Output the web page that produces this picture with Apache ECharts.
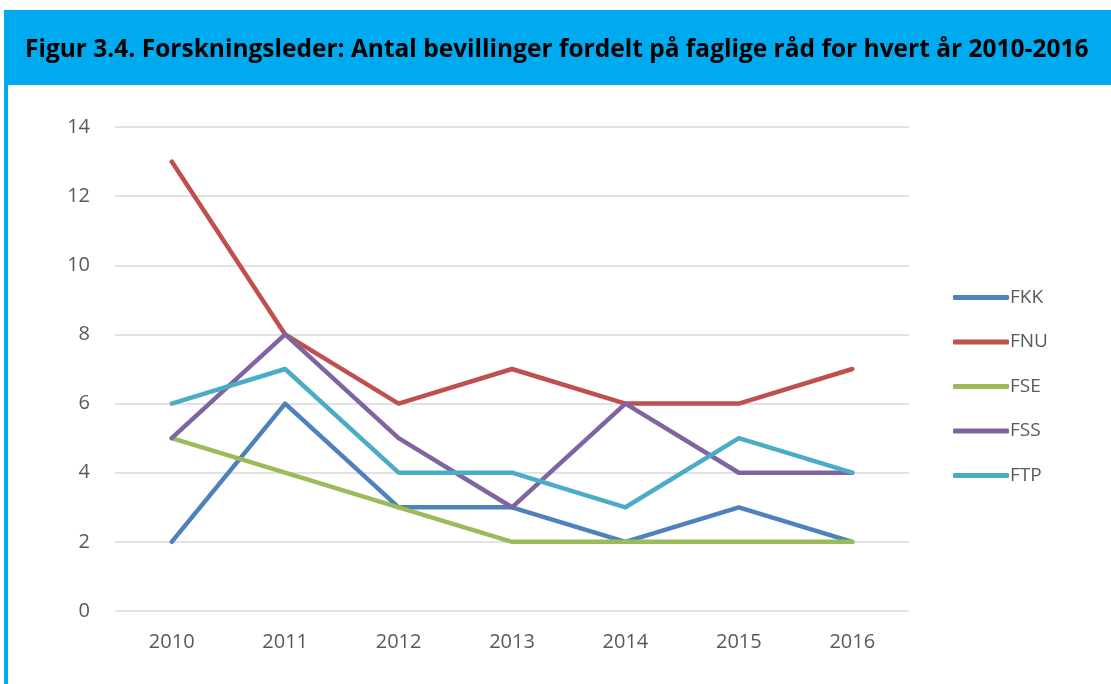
<!DOCTYPE html>
<html>
<head>
<meta charset="utf-8">
<script src="https://cdn.jsdelivr.net/npm/echarts@6/dist/echarts.min.js"></script>
<style>
  html, body { margin: 0; padding: 0; background: #fff; }
  #chart { width: 1111px; height: 684px; }
</style>
</head>
<body>
<div id="chart"></div>
<script>
// data
var years = ["2010", "2011", "2012", "2013", "2014", "2015", "2016"];
var fkk = [2, 6, 3, 3, 2, 3, 2];
var fnu = [13, 8, 6, 7, 6, 6, 7];
var fse = [5, 4, 3, 2, 2, 2, 2];
var fss = [5, 8, 5, 3, 6, 4, 4];
var ftp = [6, 7, 4, 4, 3, 5, 4];
var seriesNames = ["FKK", "FNU", "FSE", "FSS", "FTP"];
var colors = ["#4F81BD", "#C0504D", "#9BBB59", "#8064A2", "#4BACC6"];
var titleText = "Figur 3.4. Forskningsleder: Antal bevillinger fordelt på faglige råd for hvert år 2010-2016";

var myChart = echarts.init(document.getElementById("chart"));

function lineSeries(name, data) {
  return {
    name: name,
    type: "line",
    data: data,
    symbol: "none",
    lineStyle: { width: 4.5, cap: "round", join: "round" },
    emphasis: { disabled: true },
    z: 3
  };
}

var option = {
  animation: false,
  color: colors,
  textStyle: { fontFamily: "Open Sans" },
  graphic: [
    { type: "rect", shape: { x: 4, y: 10, width: 1107, height: 75 }, style: { fill: "#00AAEE" }, z: 0 },
    { type: "rect", shape: { x: 4, y: 10, width: 4, height: 674 }, style: { fill: "#00AAEE" }, z: 0 },
    {
      type: "text",
      x: 25,
      y: 50,
      style: {
        text: titleText,
        fill: "#000",
        font: "bold 24.5px 'Open Sans'",
        verticalAlign: "middle"
      },
      z: 1
    }
  ],
  grid: { left: 115, right: 202, top: 127, bottom: 73, containLabel: false },
  legend: {
    orient: "vertical",
    left: 948,
    top: 283,
    itemWidth: 56,
    itemHeight: 5,
    itemGap: 25.5,
    icon: "roundRect",
    data: seriesNames,
    textStyle: { color: "#595959", fontSize: 19, padding: [0, 0, 0, -4] }
  },
  xAxis: {
    type: "category",
    data: years,
    boundaryGap: true,
    axisLine: { show: false },
    axisTick: { show: false },
    axisLabel: { color: "#595959", fontSize: 20, margin: 21 }
  },
  yAxis: {
    type: "value",
    min: 0,
    max: 14,
    interval: 2,
    axisLine: { show: false },
    axisTick: { show: false },
    splitLine: { lineStyle: { color: "#D9D9D9", width: 1.5 } },
    axisLabel: { color: "#595959", fontSize: 20, margin: 25 }
  },
  series: [
    lineSeries("FKK", fkk),
    lineSeries("FNU", fnu),
    lineSeries("FSE", fse),
    lineSeries("FSS", fss),
    lineSeries("FTP", ftp)
  ]
};

myChart.setOption(option);
</script>
</body>
</html>
